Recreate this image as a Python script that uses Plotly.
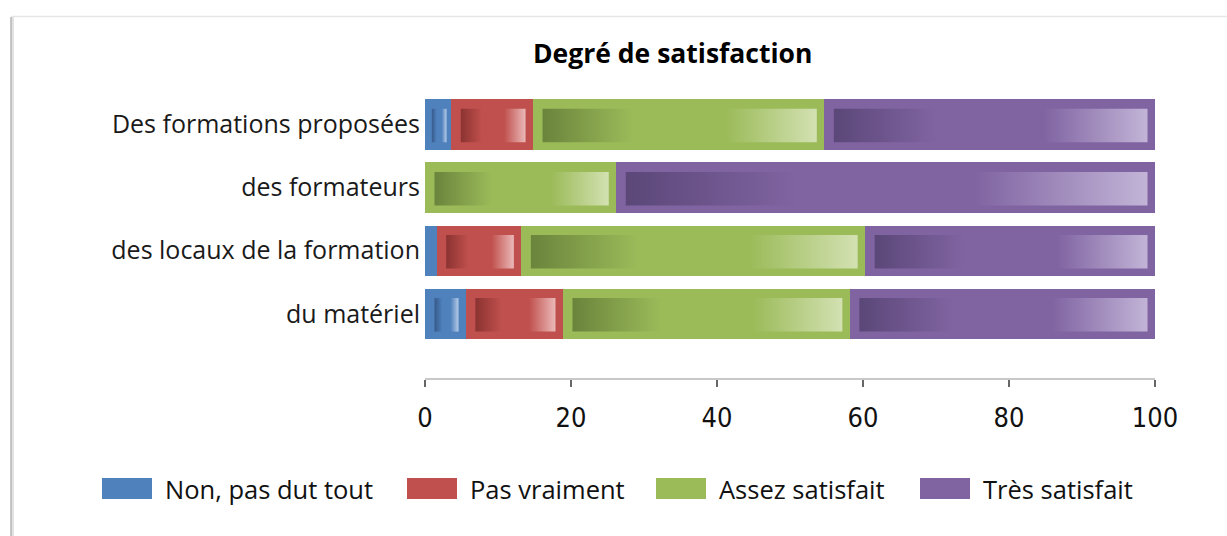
import plotly.graph_objects as go

# Survey answers (percent of respondents) per topic
categories = ["Des formations proposées", "des formateurs",
              "des locaux de la formation", "du matériel"]
non_pas_du_tout = [3.6, 0.0, 1.6, 5.6]
pas_vraiment = [11.2, 0.0, 11.6, 13.3]
assez_satisfait = [39.9, 26.2, 47.1, 39.3]
tres_satisfait = [45.3, 73.8, 39.7, 41.8]
x_ticks = [0, 20, 40, 60, 80, 100]

series_names = ["Non, pas dut tout", "Pas vraiment", "Assez satisfait", "Très satisfait"]
series_values = [non_pas_du_tout, pas_vraiment, assez_satisfait, tres_satisfait]
# base, dark and light tones for the bevel gradient of each series
palette = [
    ("#4F81BD", "#36598A", "#B6CBE7"),
    ("#C0504D", "#8B3331", "#EAB9B8"),
    ("#9BBB59", "#6A843C", "#D3E1B2"),
    ("#8064A2", "#5B4778", "#C2B4D7"),
]

W, H = 1227, 536
M_L, M_R, M_T, M_B = 425, 72, 93, 158
PLOT_W = W - M_L - M_R
PLOT_H = H - M_T - M_B
Y_RANGE = [4.017, -0.5]
BAR_W = 0.8
X_PER_PX = 100 / PLOT_W
Y_PER_PX = (Y_RANGE[0] - Y_RANGE[1]) / PLOT_H

TEXT_FONT = "'Open Sans', Lato, sans-serif"
NUM_FONT = "'Liberation Sans Narrow', 'DejaVu Sans Condensed', 'Arial Narrow', sans-serif"

ypos = list(range(len(categories)))
fig = go.Figure()

# stacked bars
for name, vals, (base_c, _, _) in zip(series_names, series_values, palette):
    fig.add_trace(go.Bar(
        y=ypos, x=vals, name=name, orientation="h", width=BAR_W,
        marker=dict(color=base_c, line=dict(width=0)),
        showlegend=False, hoverinfo="skip",
    ))

# inner bevel rectangles with horizontal gradient
left = [0.0] * len(categories)
for vals, (base_c, dark_c, light_c) in zip(series_values, palette):
    for i, v in enumerate(vals):
        x0 = left[i]
        left[i] += v
        wpx = v / X_PER_PX
        if wpx < 20:
            continue
        il = min(9.5, 0.26 * wpx) * X_PER_PX
        ir = min(7.5, 0.18 * wpx) * X_PER_PX
        top = i - BAR_W / 2 + 9.5 * Y_PER_PX
        bot = i + BAR_W / 2 - 7.5 * Y_PER_PX
        xa, xb = x0 + il, x0 + v - ir
        fig.add_trace(go.Scatter(
            x=[xa, xb, xb, xa, xa], y=[top, top, bot, bot, top],
            mode="lines", line=dict(width=0), fill="toself",
            fillgradient=dict(type="horizontal", colorscale=[
                [0, dark_c], [0.33, base_c], [0.67, base_c], [1, light_c]]),
            showlegend=False, hoverinfo="skip",
        ))

fig.update_layout(
    width=W, height=H, barmode="stack",
    margin=dict(l=M_L, r=M_R, t=M_T, b=M_B),
    paper_bgcolor="white", plot_bgcolor="white",
    xaxis=dict(range=[0, 100], tickvals=x_ticks, showgrid=False, zeroline=False,
               showline=True, linecolor="#C8C8C8", linewidth=1.5,
               ticks="outside", ticklen=7, tickwidth=1.5, tickcolor="#666666",
               ticklabelstandoff=8,
               tickfont=dict(family=NUM_FONT, size=27, color="#111111")),
    yaxis=dict(range=Y_RANGE, tickvals=ypos, ticktext=categories,
               showgrid=False, zeroline=False, showline=False, ticks="",
               ticklabelstandoff=4,
               tickfont=dict(family=TEXT_FONT, size=25, color="#1a1a1a")),
    showlegend=False,
)


def px(x):
    return (x - M_L) / PLOT_W


def py(y):
    return (H - M_B - y) / PLOT_H


# chart frame (left and top edges)
fig.add_shape(type="line", xref="paper", yref="paper",
              x0=px(12.5), x1=px(12.5), y0=py(17), y1=py(H + 5),
              line=dict(color="#E2E2E2", width=3))
fig.add_shape(type="line", xref="paper", yref="paper",
              x0=px(11), x1=px(11), y0=py(17), y1=py(H + 5),
              line=dict(color="#B5B5B5", width=1.5))
fig.add_shape(type="line", xref="paper", yref="paper",
              x0=px(11), x1=px(W + 5), y0=py(16.5), y1=py(16.5),
              line=dict(color="#E6E6E6", width=1.5))

# title
fig.add_annotation(text="<b>Degré de satisfaction</b>", xref="paper", yref="paper",
                   x=px(672), y=py(53), xanchor="center", yanchor="middle",
                   showarrow=False, font=dict(family=TEXT_FONT, size=26.5, color="#000000"))

# legend
legend_boxes = [102, 407, 656, 920]
for name, (base_c, _, _), bx in zip(series_names, palette, legend_boxes):
    fig.add_shape(type="rect", xref="paper", yref="paper",
                  x0=px(bx), x1=px(bx + 50), y0=py(478), y1=py(499),
                  fillcolor=base_c, line=dict(width=0))
    fig.add_annotation(text=name, xref="paper", yref="paper",
                       x=px(bx + 61), y=py(489), xanchor="left", yanchor="middle",
                       showarrow=False, font=dict(family=TEXT_FONT, size=25.5, color="#111111"))

fig.write_html("out.html")
